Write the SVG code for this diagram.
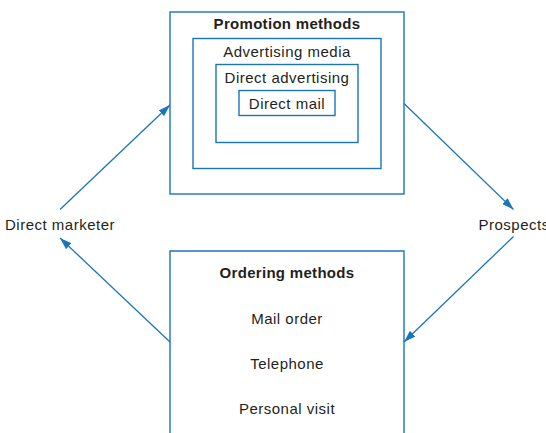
<svg xmlns="http://www.w3.org/2000/svg" width="546" height="433" viewBox="0 0 546 433">
<style>
  .box{fill:none;stroke:#1b75bb;stroke-width:1.4}
  .t{font-family:"Liberation Sans",Arial,sans-serif;font-size:15px;letter-spacing:0.5px;fill:#231f20;text-anchor:middle}
  .b{font-weight:bold;letter-spacing:0.3px}
  .l{text-anchor:start}
  .c{stroke:#1b75bb;stroke-width:1.3;fill:none;marker-end:url(#ah)}
</style>
<defs>
  <marker id="ah" viewBox="0 0 12 8" refX="12" refY="4" markerWidth="12" markerHeight="8" markerUnits="userSpaceOnUse" orient="auto">
    <path d="M0,0 L12,4 L0,8 Z" fill="#1b75bb"/>
  </marker>
</defs>
<rect width="546" height="433" fill="#ffffff"/>
<g id="promotion">
  <rect class="box" x="170" y="12" width="234" height="182"/>
  <text class="t b" x="287" y="29">Promotion methods</text>
</g>
<g id="advertising-media">
  <rect class="box" x="193" y="38.5" width="188" height="130"/>
  <text class="t" x="287" y="56.5">Advertising media</text>
</g>
<g id="direct-advertising">
  <rect class="box" x="216" y="64.5" width="142" height="78"/>
  <text class="t" x="287" y="82.5">Direct advertising</text>
</g>
<g id="direct-mail">
  <rect class="box" x="239" y="90.5" width="96" height="25"/>
  <text class="t" x="287" y="108.5">Direct mail</text>
</g>
<g id="ordering">
  <path class="box" d="M170,433 V251 H404 V433"/>
  <text class="t b" x="287" y="278">Ordering methods</text>
  <text class="t" x="287" y="324">Mail order</text>
  <text class="t" x="287" y="369">Telephone</text>
  <text class="t" x="287" y="413.5">Personal visit</text>
</g>
<g id="direct-marketer">
  <text class="t l" x="5" y="230">Direct marketer</text>
</g>
<g id="prospects">
  <text class="t l" x="478.5" y="230">Prospects</text>
</g>
<g id="connectors">
  <line class="c" x1="60" y1="209.5" x2="170" y2="105"/>
  <line class="c" x1="404" y1="103.5" x2="513.5" y2="209.5"/>
  <line class="c" x1="513.5" y1="236.5" x2="404" y2="342"/>
  <line class="c" x1="170" y1="342" x2="60" y2="238"/>
</g>
</svg>
